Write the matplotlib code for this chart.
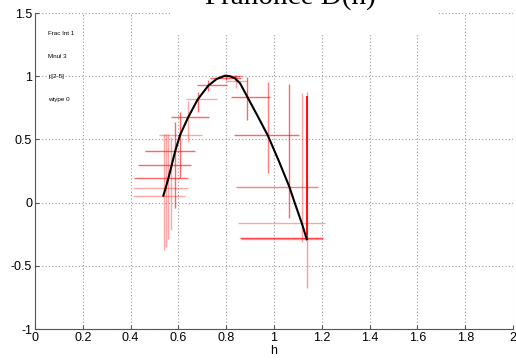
import numpy as np
import matplotlib
matplotlib.use('Agg')
import matplotlib.pyplot as plt
from matplotlib.patches import Rectangle

# spectrum curve D(h)
curve_h = [0.537, 0.547, 0.558, 0.572, 0.586, 0.607, 0.641, 0.681, 0.725, 0.760, 0.795,
           0.815, 0.837, 0.858, 0.888, 0.930, 0.974, 1.020, 1.064, 1.090, 1.116, 1.137]
curve_D = [0.055, 0.118, 0.192, 0.297, 0.403, 0.535, 0.675, 0.817, 0.925, 0.978, 1.004,
           1.0, 0.983, 0.944, 0.838, 0.69, 0.532, 0.33, 0.126, -0.02, -0.161, -0.29]

# horizontal error segments: y, x from, x to, alpha
hbar_y = [0.055, 0.118, 0.192, 0.297, 0.406, 0.537, 0.675, 0.817, 0.928, 0.988, 1.004,
          1.0, 0.965, 0.838, 0.532, 0.126, -0.161, -0.278, -0.288]
hbar_x0 = [0.411, 0.411, 0.415, 0.43, 0.46, 0.52, 0.567, 0.63, 0.679, 0.734, 0.77,
           0.795, 0.80, 0.82, 0.834, 0.841, 0.851, 0.858, 0.862]
hbar_x1 = [0.628, 0.64, 0.64, 0.652, 0.67, 0.70, 0.726, 0.76, 0.804, 0.862, 0.87,
           0.858, 0.888, 0.983, 1.105, 1.183, 1.213, 1.206, 1.20]
hbar_a = [0.35, 0.35, 0.6, 0.6, 0.6, 0.35, 0.6, 0.35, 0.6, 0.6, 0.35,
          0.35, 0.35, 0.6, 0.6, 0.5, 0.35, 0.7, 0.35]

# vertical error segments: x, y from, y to, alpha
vbar_x = [0.54, 0.547, 0.558, 0.569, 0.587, 0.607, 0.639, 0.68, 0.725, 0.80, 0.837,
          0.84, 0.888, 0.973, 1.064, 1.116, 1.14, 1.137]
vbar_y0 = [-0.375, -0.35, -0.29, -0.22, -0.04, 0.197, 0.477, 0.72, 0.883, 0.97, 0.96,
           0.906, 0.653, 0.232, -0.124, -0.309, -0.678, -0.29]
vbar_y1 = [0.54, 0.54, 0.54, 0.52, 0.635, 0.72, 0.80, 0.877, 0.97, 1.02, 1.01,
           1.01, 0.996, 0.957, 0.938, 0.865, 0.877, 0.846]
vbar_a = [0.35, 0.35, 0.35, 0.35, 0.6, 0.6, 0.35, 0.6, 0.6, 0.6, 0.35,
          0.35, 0.6, 0.5, 0.6, 0.35, 0.4, 1.0]

info_lines = ['Frac Int 1', 'Mnul 3', 'j:[2-5]', 'wtype 0']
info_y = [1.334, 1.152, 1.0, 0.812]

fig = plt.figure(figsize=(5.16, 3.6), dpi=100)
ax = fig.add_axes([35 / 516, 1 - 329 / 360, 478 / 516, 316 / 360])

for y, x0, x1, a in zip(hbar_y, hbar_x0, hbar_x1, hbar_a):
    ax.hlines(y, x0, x1, colors='red', alpha=a, lw=1.0)
for x, y0, y1, a in zip(vbar_x, vbar_y0, vbar_y1, vbar_a):
    ax.vlines(x, y0, y1, colors='red', alpha=a, lw=1.0 if a < 1 else 1.3)

ax.plot(curve_h, curve_D, color='black', lw=1.5, solid_joinstyle='round')

for s, y in zip(info_lines, info_y):
    ax.text(0.054, y, s, fontsize=4.5, va='center', ha='left', family='Liberation Sans')

ax.set_xlim(0, 2)
ax.set_ylim(-1, 1.5)
ax.set_xticks(np.arange(0, 2.01, 0.2))
ax.set_xticklabels(['0', '0.2', '0.4', '0.6', '0.8', '1', '1.2', '1.4', '1.6', '1.8', '2'])
ax.set_yticks([-1, -0.5, 0, 0.5, 1, 1.5])
ax.set_yticklabels(['-1', '-0.5', '0', '0.5', '1', '1.5'])
ax.grid(True, color='#999999', linestyle=(0, (1, 2)), lw=0.8)
ax.set_axisbelow(True)
for sp in ['top', 'right']:
    ax.spines[sp].set_visible(False)
for sp in ['left', 'bottom']:
    ax.spines[sp].set_color('#555555')
    ax.spines[sp].set_linewidth(0.8)
ax.tick_params(direction='in', length=3, color='#555555', labelsize=9, pad=2)
for lab in ax.get_xticklabels() + ax.get_yticklabels():
    lab.set_family('Liberation Sans')
ax.set_xlabel('h', fontsize=9, family='Liberation Sans', labelpad=1)

# white block behind the title, hiding the grid
fig.patches.append(Rectangle((171 / 516, 1 - 35 / 360), 266 / 516, 35 / 360,
                             transform=fig.transFigure, facecolor='white',
                             edgecolor='none', zorder=5))
fig.text(290 / 516, 1 - 3.5 / 360, 'Franonce D(h)', ha='center', va='baseline',
         fontsize=21, family='Liberation Serif', zorder=6)

fig.savefig('out.png', dpi=100)
